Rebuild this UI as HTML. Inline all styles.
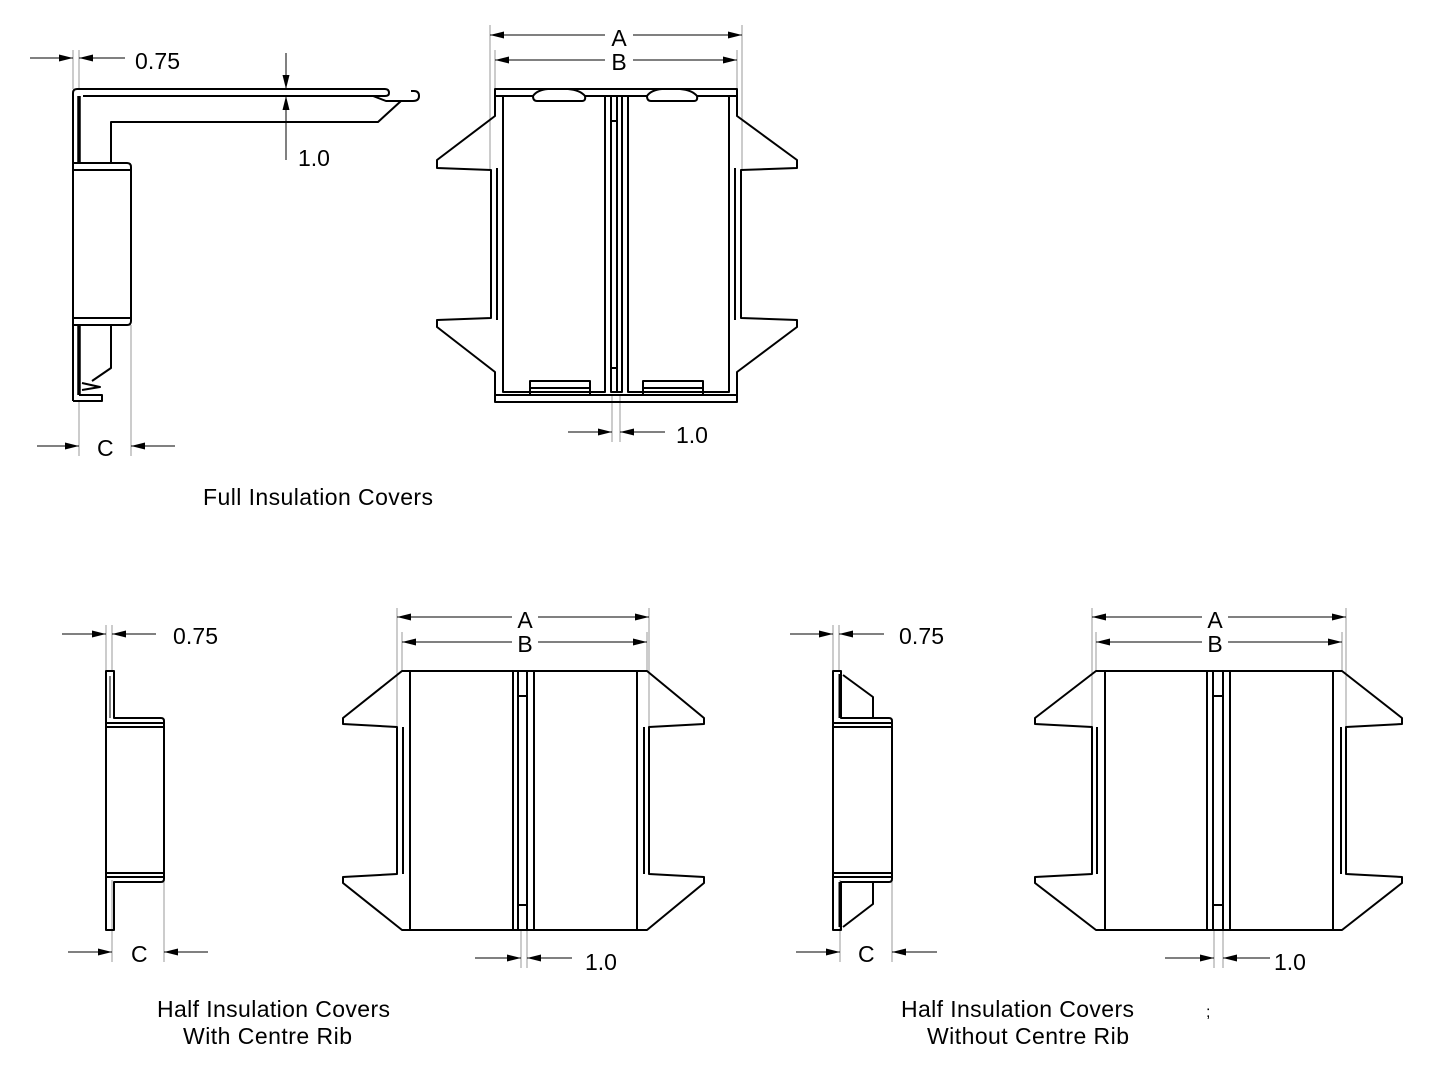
<!DOCTYPE html>
<html><head><meta charset="utf-8"><style>
html,body{margin:0;padding:0;background:#fff;}
svg{display:block;}
text{font-family:"Liberation Sans",Arial,sans-serif;fill:#000;}
</style></head><body>
<svg width="1440" height="1080" viewBox="0 0 1440 1080" xmlns="http://www.w3.org/2000/svg">
<defs>
<marker id="ar" viewBox="0 0 14 7" refX="14" refY="3.5" markerWidth="14" markerHeight="7" markerUnits="userSpaceOnUse" orient="auto"><path d="M0,0 L14,3.5 L0,7 z" fill="#000"/></marker>
</defs>

<g stroke="#999" stroke-width="1" fill="none">
<line x1="73" y1="50" x2="73" y2="89"/><line x1="79" y1="50" x2="79" y2="89"/>
<line x1="79" y1="400" x2="79" y2="456"/><line x1="131" y1="325" x2="131" y2="456"/>
<line x1="490" y1="25" x2="490" y2="170"/><line x1="742" y1="25" x2="742" y2="170"/>
<line x1="495" y1="50" x2="495" y2="89"/><line x1="737" y1="50" x2="737" y2="89"/>
<line x1="612" y1="395" x2="612" y2="442"/><line x1="620" y1="395" x2="620" y2="442"/>
<line x1="106" y1="625" x2="106" y2="671"/><line x1="112" y1="625" x2="112" y2="671"/>
<line x1="112" y1="880" x2="112" y2="962"/><line x1="164" y1="882" x2="164" y2="962"/>
<line x1="397" y1="608" x2="397" y2="727"/><line x1="649" y1="608" x2="649" y2="727"/>
<line x1="402" y1="632" x2="402" y2="671"/><line x1="647" y1="632" x2="647" y2="671"/>
<line x1="521" y1="930" x2="521" y2="968"/><line x1="527" y1="930" x2="527" y2="968"/>
<line x1="833" y1="625" x2="833" y2="671"/><line x1="839" y1="625" x2="839" y2="671"/>
<line x1="840" y1="880" x2="840" y2="962"/><line x1="892" y1="882" x2="892" y2="962"/>
<line x1="1092" y1="608" x2="1092" y2="727"/><line x1="1346" y1="608" x2="1346" y2="727"/>
<line x1="1096" y1="632" x2="1096" y2="671"/><line x1="1342" y1="632" x2="1342" y2="671"/>
<line x1="1214" y1="930" x2="1214" y2="968"/><line x1="1223" y1="930" x2="1223" y2="968"/>
</g>

<g stroke="#000" stroke-width="1" fill="none" marker-end="url(#ar)">
<line x1="30" y1="58" x2="73" y2="58"/><line x1="125" y1="58" x2="79" y2="58"/>
<line x1="286" y1="53" x2="286" y2="89"/><line x1="286" y1="160" x2="286" y2="96"/>
<line x1="37" y1="446" x2="79" y2="446"/><line x1="175" y1="446" x2="131" y2="446"/>
<line x1="605" y1="35" x2="490" y2="35"/><line x1="633" y1="35" x2="742" y2="35"/>
<line x1="605" y1="60" x2="495" y2="60"/><line x1="633" y1="60" x2="737" y2="60"/>
<line x1="568" y1="432" x2="612" y2="432"/><line x1="665" y1="432" x2="620" y2="432"/>
<line x1="62" y1="634" x2="106" y2="634"/><line x1="156" y1="634" x2="112" y2="634"/>
<line x1="68" y1="952" x2="112" y2="952"/><line x1="208" y1="952" x2="164" y2="952"/>
<line x1="512" y1="617" x2="397" y2="617"/><line x1="538" y1="617" x2="649" y2="617"/>
<line x1="512" y1="642" x2="402" y2="642"/><line x1="538" y1="642" x2="647" y2="642"/>
<line x1="475" y1="958" x2="521" y2="958"/><line x1="572" y1="958" x2="527" y2="958"/>
<line x1="790" y1="634" x2="833" y2="634"/><line x1="884" y1="634" x2="839" y2="634"/>
<line x1="796" y1="952" x2="840" y2="952"/><line x1="937" y1="952" x2="892" y2="952"/>
<line x1="1202" y1="617" x2="1092" y2="617"/><line x1="1228" y1="617" x2="1346" y2="617"/>
<line x1="1202" y1="642" x2="1096" y2="642"/><line x1="1228" y1="642" x2="1342" y2="642"/>
<line x1="1165" y1="958" x2="1214" y2="958"/><line x1="1270" y1="958" x2="1223" y2="958"/>
</g>

<g stroke="#000" stroke-width="2" fill="none" stroke-linejoin="round">
<path d="M73,401 L73,93 Q73,89 77,89 L385,89 Q389,89 389,93 Q389,96 385,96 L83,96"/>
<line x1="79" y1="96" x2="79" y2="163" stroke-width="3.5"/>
<line x1="79" y1="325" x2="79" y2="395" stroke-width="3.5"/>
<path d="M373,96 L386,101 L413,101 Q419,101 419,96 Q419,91 414,91 L411,91"/>
<path d="M111,163 L111,122 L378,122 L401,101"/>
<path d="M73,163 L127,163 Q131,163 131,167 L131,321 Q131,325 127,325 L73,325"/>
<line x1="73" y1="170" x2="131" y2="170"/>
<line x1="73" y1="318" x2="131" y2="318"/>
<path d="M111,325 L111,368 L92,381"/>
<path d="M82,383 L100,387 L82,390"/>
<path d="M73,401 L102,401 L102,395 L79,395"/>

<rect x="495" y="89" width="242" height="7"/>
<rect x="495" y="395" width="242" height="7"/>
<path d="M495,96 L495,116 L437,160 L437,168 L491,170 L491,318 L437,320 L437,327 L495,372 L495,395"/>
<line x1="497" y1="168" x2="497" y2="320"/>
<path d="M737,96 L737,116 L797,160 L797,168 L741,170 L741,318 L797,320 L797,327 L737,372 L737,395"/>
<line x1="735" y1="168" x2="735" y2="320"/>
<path d="M503,96 L503,392 L605,392 L605,96"/>
<path d="M628,96 L628,392 L729,392 L729,96"/>
<path d="M611,96 L611,392 L622,392 L622,96"/>
<line x1="617" y1="96" x2="617" y2="392"/>
<line x1="611" y1="121" x2="617" y2="121"/><line x1="611" y1="368" x2="617" y2="368"/>
<path d="M533,96 Q533,101 537,101 L582,101 Q586,101 585,96 Q580,90 568,89 L548,89 Q537,90 533,96 z" fill="#fff"/>
<path d="M647,96 Q647,101 651,101 L694,101 Q698,101 697,96 Q692,90 680,89 L662,89 Q651,90 647,96 z" fill="#fff"/>
<rect x="530" y="381" width="60" height="14"/><line x1="530" y1="388" x2="590" y2="388"/>
<rect x="643" y="381" width="60" height="14"/><line x1="643" y1="388" x2="703" y2="388"/>

<path d="M106,671 L114,671 L114,718 L161,718 Q164,718 164,721 L164,879 Q164,882 161,882 L114,882 L114,930 L106,930 Z"/>
<line x1="106" y1="723" x2="164" y2="723"/><line x1="106" y1="727" x2="164" y2="727"/>
<line x1="106" y1="873" x2="164" y2="873"/><line x1="106" y1="877" x2="164" y2="877"/>
<line x1="110" y1="676" x2="110" y2="718" stroke-width="1"/>

<path d="M402,671 L647,671 L704,718 L704,724 L649,727 L649,874 L704,877 L704,883 L647,930 L402,930 L343,883 L343,877 L397,874 L397,727 L343,724 L343,718 Z"/>
<line x1="403" y1="727" x2="403" y2="874"/><line x1="644" y1="727" x2="644" y2="874"/>
<line x1="410" y1="671" x2="410" y2="930"/><line x1="637" y1="671" x2="637" y2="930"/>
<line x1="513" y1="671" x2="513" y2="930"/><line x1="518" y1="671" x2="518" y2="930"/>
<line x1="527" y1="671" x2="527" y2="930"/><line x1="534" y1="671" x2="534" y2="930"/>
<line x1="518" y1="696" x2="527" y2="696"/><line x1="518" y1="905" x2="527" y2="905"/>

<path d="M833,671 L841,671 L841,718 L889,718 Q892,718 892,721 L892,879 Q892,882 889,882 L841,882 L841,930 L833,930 Z"/>
<line x1="833" y1="723" x2="892" y2="723"/><line x1="833" y1="727" x2="892" y2="727"/>
<line x1="833" y1="873" x2="892" y2="873"/><line x1="833" y1="877" x2="892" y2="877"/>
<line x1="840" y1="674" x2="840" y2="718" stroke-width="3"/>
<line x1="840" y1="882" x2="840" y2="927" stroke-width="3"/>
<path d="M843,675 L873,697 L873,718"/>
<path d="M843,927 L873,904 L873,882"/>

<path d="M1096,671 L1342,671 L1402,718 L1402,724 L1346,727 L1346,874 L1402,877 L1402,883 L1342,930 L1096,930 L1035,883 L1035,877 L1092,874 L1092,727 L1035,724 L1035,718 Z"/>
<line x1="1097" y1="727" x2="1097" y2="874"/><line x1="1341" y1="727" x2="1341" y2="874"/>
<line x1="1105" y1="671" x2="1105" y2="930"/><line x1="1333" y1="671" x2="1333" y2="930"/>
<line x1="1207" y1="671" x2="1207" y2="930"/><line x1="1213" y1="671" x2="1213" y2="930"/>
<line x1="1223" y1="671" x2="1223" y2="930"/><line x1="1230" y1="671" x2="1230" y2="930"/>
<line x1="1213" y1="696" x2="1223" y2="696"/><line x1="1213" y1="905" x2="1223" y2="905"/>
</g>

<g font-size="23">
<text x="135" y="69" textLength="45">0.75</text>
<text x="298" y="166">1.0</text>
<text x="97" y="456">C</text>
<text x="619" y="46" text-anchor="middle">A</text>
<text x="619" y="70" text-anchor="middle">B</text>
<text x="676" y="443">1.0</text>
<text x="203" y="505" textLength="230">Full Insulation Covers</text>

<text x="173" y="644" textLength="45">0.75</text>
<text x="131" y="962">C</text>
<text x="525" y="628" text-anchor="middle">A</text>
<text x="525" y="652" text-anchor="middle">B</text>
<text x="585" y="970">1.0</text>
<text x="157" y="1017" textLength="233">Half Insulation Covers</text>
<text x="183" y="1044" textLength="169">With Centre Rib</text>

<text x="899" y="644" textLength="45">0.75</text>
<text x="858" y="962">C</text>
<text x="1215" y="628" text-anchor="middle">A</text>
<text x="1215" y="652" text-anchor="middle">B</text>
<text x="1274" y="970">1.0</text>
<text x="901" y="1017" textLength="233">Half Insulation Covers</text>
<text x="927" y="1044" textLength="202">Without Centre Rib</text>
<text x="1206" y="1017" font-size="16">;</text>
</g>
</svg>
</body></html>
